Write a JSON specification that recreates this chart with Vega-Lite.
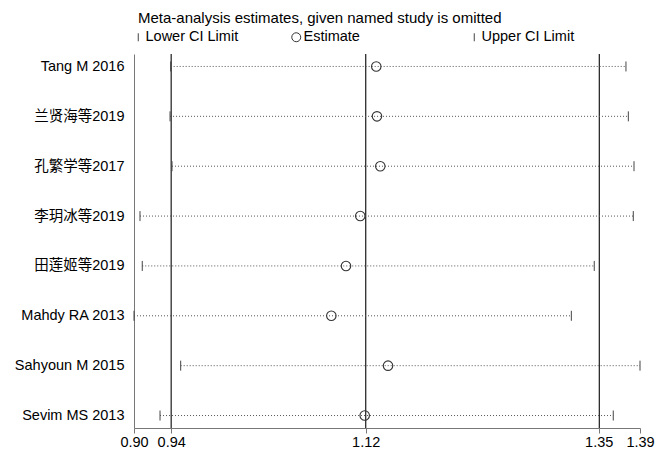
{
  "$schema": "https://vega.github.io/schema/vega-lite/v6.json",
  "width": 506,
  "height": 374,
  "autosize": {"type": "none"},
  "padding": {"left": 134, "top": 54, "right": 21, "bottom": 23},
  "background": "white",
  "config": {
    "font": "Liberation Sans, Noto Sans CJK SC, sans-serif",
    "view": {"stroke": null},
    "legend": {"padding": 0, "labelFontSize": 14.5, "labelColor": "#000", "labelFont": "Liberation Sans", "title": null}
  },
  "title": {
    "text": "Meta-analysis estimates, given named study is omitted",
    "anchor": "start",
    "frame": "group",
    "dx": 4,
    "offset": 4,
    "fontSize": 15,
    "fontWeight": "normal",
    "color": "#000"
  },
  "datasets": {
    "studies": [
      {"study": "Tang M 2016", "lower": 0.9355, "estimate": 1.1346, "upper": 1.3764},
      {"study": "兰贤海等2019", "lower": 0.9349, "estimate": 1.1353, "upper": 1.3787},
      {"study": "孔繁学等2017", "lower": 0.9368, "estimate": 1.1385, "upper": 1.3842},
      {"study": "李玥冰等2019", "lower": 0.9058, "estimate": 1.1191, "upper": 1.3835},
      {"study": "田莲姬等2019", "lower": 0.908, "estimate": 1.1053, "upper": 1.3457},
      {"study": "Mahdy RA 2013", "lower": 0.9, "estimate": 1.0911, "upper": 1.3235},
      {"study": "Sahyoun M 2015", "lower": 0.9452, "estimate": 1.146, "upper": 1.39},
      {"study": "Sevim MS 2013", "lower": 0.9252, "estimate": 1.1234, "upper": 1.3641}
    ],
    "overall": [
      {"stat": "lower", "value": 0.936},
      {"stat": "estimate", "value": 1.1244},
      {"stat": "upper", "value": 1.3506}
    ]
  },
  "layer": [
    {
      "data": {"name": "overall"},
      "mark": {"type": "rule", "color": "#1a1a1a", "strokeWidth": 1.2},
      "encoding": {
        "x": {
          "field": "value",
          "type": "quantitative",
          "scale": {"domain": [0.9, 1.39], "nice": false, "zero": false},
          "axis": {
            "title": null,
            "values": [0.9, 0.936, 1.1244, 1.35, 1.39],
            "format": ".2f",
            "grid": false,
            "labelFlush": false,
            "labelOverlap": false,
            "domainColor": "#777",
            "tickColor": "#777",
            "tickSize": 5,
            "labelFontSize": 14.5,
            "labelColor": "#000",
            "labelPadding": 2
          }
        }
      }
    },
    {
      "data": {"name": "studies"},
      "mark": {"type": "rule", "strokeDash": [1, 2], "color": "#555", "strokeWidth": 1},
      "encoding": {
        "y": {
          "field": "study",
          "type": "nominal",
          "sort": null,
          "scale": {"type": "point", "padding": 0.25},
          "axis": {
            "title": null,
            "ticks": false,
            "grid": false,
            "domainColor": "#777",
            "labelFontSize": 14.5,
            "labelColor": "#000",
            "labelPadding": 10
          }
        },
        "x": {"field": "lower", "type": "quantitative"},
        "x2": {"field": "upper"}
      }
    },
    {
      "data": {"name": "studies"},
      "mark": {"type": "point", "shape": "M0,-1L0,1", "filled": false, "size": 100, "strokeWidth": 1, "opacity": 1},
      "encoding": {
        "y": {"field": "study", "type": "nominal", "sort": null},
        "x": {"field": "lower", "type": "quantitative"},
        "color": {
          "datum": "Lower CI Limit",
          "type": "nominal",
          "scale": {"range": ["#444"]},
          "legend": {"orient": "none", "legendX": -3, "legendY": -24, "symbolSize": 64, "labelOffset": 0, "symbolStrokeWidth": 1}
        }
      }
    },
    {
      "data": {"name": "studies"},
      "mark": {"type": "point", "shape": "M0,-1L0,1", "filled": false, "size": 100, "strokeWidth": 1, "opacity": 1},
      "encoding": {
        "y": {"field": "study", "type": "nominal", "sort": null},
        "x": {"field": "upper", "type": "quantitative"},
        "color": {
          "datum": "Upper CI Limit",
          "type": "nominal",
          "scale": {"range": ["#444"]},
          "legend": {"orient": "none", "legendX": 333, "legendY": -24, "symbolSize": 64, "labelOffset": 0, "symbolStrokeWidth": 1}
        }
      }
    },
    {
      "data": {"name": "studies"},
      "mark": {"type": "point", "shape": "circle", "filled": false, "size": 90, "strokeWidth": 1.1, "opacity": 1},
      "encoding": {
        "y": {"field": "study", "type": "nominal", "sort": null},
        "x": {"field": "estimate", "type": "quantitative"},
        "color": {
          "datum": "Estimate",
          "type": "nominal",
          "scale": {"range": ["#333"]},
          "legend": {"orient": "none", "legendX": 155, "legendY": -24, "symbolSize": 80, "labelOffset": 0, "symbolStrokeWidth": 1}
        }
      }
    }
  ],
  "resolve": {"scale": {"color": "independent"}, "legend": {"color": "independent"}}
}
